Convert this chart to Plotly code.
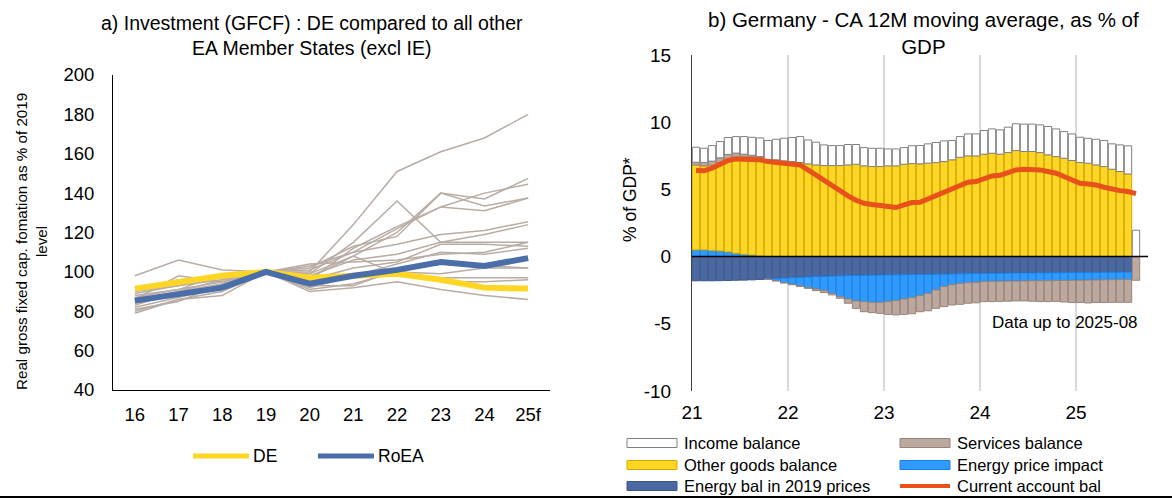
import pandas as pd
import plotly.graph_objects as go

FONT = "Liberation Sans, Arial, sans-serif"

# ---- panel a) : GFCF, index 2019 = 100
years = ["16", "17", "18", "19", "20", "21", "22", "23", "24", "25f"]
de = [91.5, 95, 98, 100, 97, 98, 99, 96, 92, 91.5]
roea = [85.4, 89, 92, 100, 94, 98, 101, 105, 103, 107]
other_ms = [
    [84, 88, 92, 100, 100, 124, 151, 161, 168, 180],
    [90, 93, 96, 100, 99, 115, 136, 115, 115, 115],
    [80, 86, 90, 100, 97, 108, 120, 140, 137, 147.5],
    [82, 87, 92, 100, 96, 112, 123, 133, 140, 144.5],
    [86, 90, 94, 100, 101, 110, 122, 133, 131, 137.5],
    [88, 91, 95, 100, 102, 113, 118, 140, 133.5, 137.5],
    [92, 96, 98, 100, 103, 110, 114, 119, 121, 125.5],
    [85, 89, 93, 100, 98, 106, 109, 115, 119, 124],
    [98, 106, 101, 100, 104, 105, 106, 109, 110, 115],
    [89, 93, 97, 100, 96, 102, 105, 114, 114, 113],
    [87, 91, 99, 100, 92, 98, 104, 110, 109, 112],
    [91, 95, 98, 100, 95, 97, 101, 104, 103, 102],
    [83, 90, 96, 100, 91, 94, 100, 99, 102, 102],
    [79, 86, 88, 100, 93, 93, 101, 95, 95, 96],
    [81, 85, 94, 100, 90, 92, 95, 91, 88, 86],
    [86, 98, 95, 100, 99, 108, 99, 97, 97, 97],
]

# ---- panel b) : Germany CA, 12M moving average, % of GDP (Jan 2021 - Aug 2025)
months = pd.period_range("2021-01", "2025-08", freq="M")
energy_2019 = [-1.80, -1.80, -1.80, -1.79, -1.78, -1.76, -1.75, -1.73, -1.70,
               -1.66, -1.63, -1.60, -1.57, -1.55, -1.52, -1.49, -1.47, -1.45, -1.43,
               -1.41, -1.40, -1.39, -1.38, -1.37, -1.36, -1.36, -1.35, -1.34, -1.33,
               -1.32, -1.31, -1.30, -1.29, -1.28, -1.27, -1.26, -1.25,
               -1.24, -1.24, -1.23, -1.23, -1.22, -1.22, -1.21, -1.21, -1.20, -1.20,
               -1.19, -1.19, -1.18, -1.18, -1.17, -1.17, -1.16, -1.15, 0]
energy_price = [0.50, 0.50, 0.45, 0.42, 0.35, 0.25, 0.17, 0.12, 0.05,
                -0.02, -0.16, -0.34, -0.49, -0.63, -0.79, -0.92, -1.06, -1.28, -1.55,
                -1.74, -1.90, -1.96, -2.02, -2.03, -1.99, -1.91, -1.80, -1.71, -1.57,
                -1.41, -1.17, -0.93, -0.81, -0.72, -0.67, -0.66, -0.61,
                -0.60, -0.59, -0.59, -0.59, -0.59, -0.58, -0.59, -0.58, -0.58, -0.58,
                -0.58, -0.57, -0.57, -0.56, -0.56, -0.55, -0.55, -0.55, 0]
other_goods = [6.32, 6.25, 6.35, 6.58, 6.90, 7.15, 7.25, 7.30, 7.34,
               7.20, 7.20, 7.12, 7.07, 7.00, 6.90, 6.82, 6.77, 6.77, 6.77,
               6.82, 6.87, 6.75, 6.70, 6.70, 6.75, 6.75, 6.87, 6.92, 6.90,
               6.95, 7.00, 7.07, 7.20, 7.39, 7.49, 7.49, 7.62, 7.69, 7.62,
               7.74, 7.89, 7.82, 7.82, 7.74, 7.57, 7.44, 7.32, 7.15, 7.00,
               6.95, 6.82, 6.70, 6.50, 6.33, 6.15, 0]
services = [0.20, 0.25, 0.30, 0.35, 0.35, 0.30, 0.20, 0.12, 0.05,
            -0.02, -0.02, -0.02, -0.03, -0.03,
            -0.05, -0.12, -0.15, -0.12, -0.12, -0.32, -0.55, -0.75, -0.77, -0.82,
            -0.95, -1.07, -1.15, -1.20, -1.20, -1.30, -1.37, -1.49, -1.50, -1.55,
            -1.53, -1.52, -1.49,
            -1.51, -1.50, -1.50, -1.48, -1.49, -1.52, -1.55, -1.56, -1.55, -1.60,
            -1.65, -1.66, -1.70, -1.68, -1.69, -1.68, -1.69, -1.70, -1.76]
income = [1.12, 1.06, 1.16, 1.21, 1.26, 1.23, 1.31, 1.34, 1.39,
          1.44, 1.53, 1.69, 1.79, 1.93, 1.78, 1.69, 1.54, 1.49, 1.49, 1.52,
          1.47, 1.36, 1.36, 1.36, 1.26, 1.26, 1.24, 1.33, 1.36, 1.44, 1.49,
          1.54, 1.44, 1.54, 1.64, 1.64, 1.76, 1.81, 1.81, 1.89, 1.99, 2.04,
          2.04, 2.06, 2.11, 2.06, 1.98, 1.98, 1.88, 1.85, 1.91, 1.94, 1.89,
          1.98, 2.09, 1.96]
current_account = [6.40, 6.38, 6.58, 6.90, 7.15, 7.27, 7.27, 7.25, 7.20, 7.07,
                   7.02, 6.95, 6.87, 6.82, 6.45, 6.05, 5.66, 5.26, 4.89, 4.52,
                   4.19, 3.97, 3.87, 3.82, 3.77, 3.65, 3.85, 4.02, 4.04, 4.29,
                   4.59, 4.84, 5.09, 5.33, 5.53, 5.58, 5.83, 6.00, 6.05, 6.25,
                   6.45, 6.50, 6.50, 6.45, 6.33, 6.20, 5.96, 5.70, 5.46, 5.40,
                   5.33, 5.16, 5.01, 4.91, 4.84, 4.69]
year_ticks = [2021, 2022, 2023, 2024, 2025]
year_labels = ["21", "22", "23", "24", "25"]

# month mid-points as decimal years
xm = [p.year + (p.month - 0.5) / 12 for p in months]

C_YEL = "#ffd624"
C_BLUE = "#4a6ea9"
C_GREY = "#b8aca4"
C_LBLUE = "#2f9bff"
C_DBLUE = "#4a68a2"
C_BROWN = "#bba9a0"
C_CA = "#e8511c"

fig = go.Figure()

for s in other_ms:
    fig.add_trace(go.Scatter(x=years, y=s, mode="lines", line=dict(color=C_GREY, width=1.5),
                             showlegend=False, hoverinfo="skip", xaxis="x", yaxis="y"))
fig.add_trace(go.Scatter(x=years, y=de, mode="lines", name="DE", line=dict(color=C_YEL, width=6),
                         showlegend=False, xaxis="x", yaxis="y"))
fig.add_trace(go.Scatter(x=years, y=roea, mode="lines", name="RoEA", line=dict(color=C_BLUE, width=6),
                         showlegend=False, xaxis="x", yaxis="y"))

bars = [
    ("Energy bal in 2019 prices", energy_2019, C_DBLUE, "#3b5686"),
    ("Energy price impact", energy_price, C_LBLUE, "#1a7fe6"),
    ("Other goods balance", other_goods, C_YEL, "#d2aa00"),
    ("Services balance", services, C_BROWN, "#9a8277"),
    ("Income balance", income, "white", "#808080"),
]
for name, vals, col, edge in bars:
    fig.add_trace(go.Bar(x=xm, y=vals, name=name, marker=dict(color=col, line=dict(color=edge, width=1)),
                         showlegend=False, xaxis="x2", yaxis="y2"))
fig.add_trace(go.Scatter(x=xm, y=current_account, mode="lines", name="Current account bal",
                         line=dict(color=C_CA, width=5), showlegend=False, xaxis="x2", yaxis="y2"))

W, H = 1172, 500


def px(x):
    return x / W


def py(y):
    return 1 - y / H


shapes = [
    dict(type="line", xref="x2 domain", yref="y2", x0=0, x1=1, y0=0, y1=0,
         line=dict(color="black", width=1.5), layer="above"),
    dict(type="line", xref="paper", yref="paper", x0=0, x1=1, y0=py(497), y1=py(497),
         line=dict(color="black", width=2)),
]
annotations = []

# legend panel a)
for x0, col, txt in [(193, C_YEL, "DE"), (318, C_BLUE, "RoEA")]:
    shapes.append(dict(type="line", xref="paper", yref="paper", x0=px(x0), x1=px(x0 + 56),
                       y0=py(456), y1=py(456), line=dict(color=col, width=5)))
    annotations.append(dict(text=txt, xref="paper", yref="paper", x=px(x0 + 58), y=py(456),
                            xanchor="left", yanchor="middle", showarrow=False,
                            font=dict(size=17.5, color="black")))

# legend panel b)
leg = [
    (627, 443, "rect", "white", "#808080", "Income balance"),
    (900, 443, "rect", C_BROWN, "#9a8277", "Services balance"),
    (627, 465, "rect", C_YEL, "#d2aa00", "Other goods balance"),
    (900, 465, "rect", C_LBLUE, "#1a7fe6", "Energy price impact"),
    (627, 486, "rect", C_DBLUE, "#3b5686", "Energy bal in 2019 prices"),
    (900, 486, "line", C_CA, C_CA, "Current account bal"),
]
for x0, y0, kind, col, edge, txt in leg:
    if kind == "rect":
        shapes.append(dict(type="rect", xref="paper", yref="paper", x0=px(x0), x1=px(x0 + 50),
                           y0=py(y0 + 4.5), y1=py(y0 - 4.5), fillcolor=col,
                           line=dict(color=edge, width=1)))
    else:
        shapes.append(dict(type="line", xref="paper", yref="paper", x0=px(x0), x1=px(x0 + 50),
                           y0=py(y0), y1=py(y0), line=dict(color=col, width=4)))
    annotations.append(dict(text=txt, xref="paper", yref="paper", x=px(x0 + 55), y=py(y0),
                            xanchor="left", yanchor="middle", showarrow=False,
                            font=dict(size=16.5, color="black")))

annotations += [
    dict(text="a) Investment (GFCF) : DE compared to all other<br>EA Member States (excl IE)",
         xref="paper", yref="paper", x=px(312), y=py(36), xanchor="center", yanchor="middle",
         showarrow=False, font=dict(size=19.5, color="black")),
    dict(text="b) Germany - CA 12M moving average, as % of<br>GDP",
         xref="paper", yref="paper", x=px(923), y=py(33), xanchor="center", yanchor="middle",
         showarrow=False, font=dict(size=20.5, color="black")),
    dict(text="Real gross fixed cap. fomation as % of 2019<br>level", textangle=-90,
         xref="paper", yref="paper", x=px(31), y=py(242), xanchor="center", yanchor="middle",
         showarrow=False, font=dict(size=15.2, color="black")),
    dict(text="% of GDP*", textangle=-90,
         xref="paper", yref="paper", x=px(630), y=py(200), xanchor="center", yanchor="middle",
         showarrow=False, font=dict(size=17.5, color="black")),
    dict(text="Data up to 2025-08", xref="paper", yref="paper", x=px(1140), y=py(322),
         xanchor="right", yanchor="middle", showarrow=False, font=dict(size=17, color="black")),
]

fig.update_layout(
    width=W, height=H, margin=dict(l=0, r=0, t=0, b=0, autoexpand=False),
    paper_bgcolor="white", plot_bgcolor="white",
    font=dict(family=FONT, size=16, color="black"),
    barmode="relative", bargap=0.08,
    showlegend=False,
    xaxis=dict(domain=[px(113), px(550)], type="category", range=[-0.5, 9.5], anchor="y",
               automargin=False,
               showline=True, linecolor="black", linewidth=1, showgrid=False, zeroline=False,
               ticks="", ticklabelstandoff=8, tickfont=dict(size=18.5)),
    yaxis=dict(domain=[py(390), py(75)], range=[40, 200], dtick=20, anchor="x",
               automargin=False,
               showline=True, linecolor="black", linewidth=1, showgrid=False, zeroline=False,
               ticks="", ticklabelstandoff=14, tickfont=dict(size=18.5)),
    xaxis2=dict(domain=[px(692), px(1148)], range=[2021, 2025.75], anchor="y2",
                automargin=False,
                tickvals=year_ticks, ticktext=year_labels, showline=False, zeroline=False,
                showgrid=True, gridcolor="#d9d9d9", gridwidth=2,
                ticks="", ticklabelstandoff=8, tickfont=dict(size=19)),
    yaxis2=dict(domain=[py(391), py(55)], range=[-10, 15], anchor="x2",
                automargin=False,
                tickvals=[-10, -5, 0, 5, 10, 15], ticktext=["-10", "-5", "0", "5", "10", "15"],
                showline=True, linecolor="#404040", linewidth=1, showgrid=False, zeroline=False,
                ticks="", ticklabelstandoff=16, tickfont=dict(size=19)),
    shapes=shapes, annotations=annotations,
)

# page body has a default 8px margin; drop it so the figure fills the window
fig.write_html("out.html", config={"displayModeBar": False},
               post_script="document.body.style.margin='0px';")
